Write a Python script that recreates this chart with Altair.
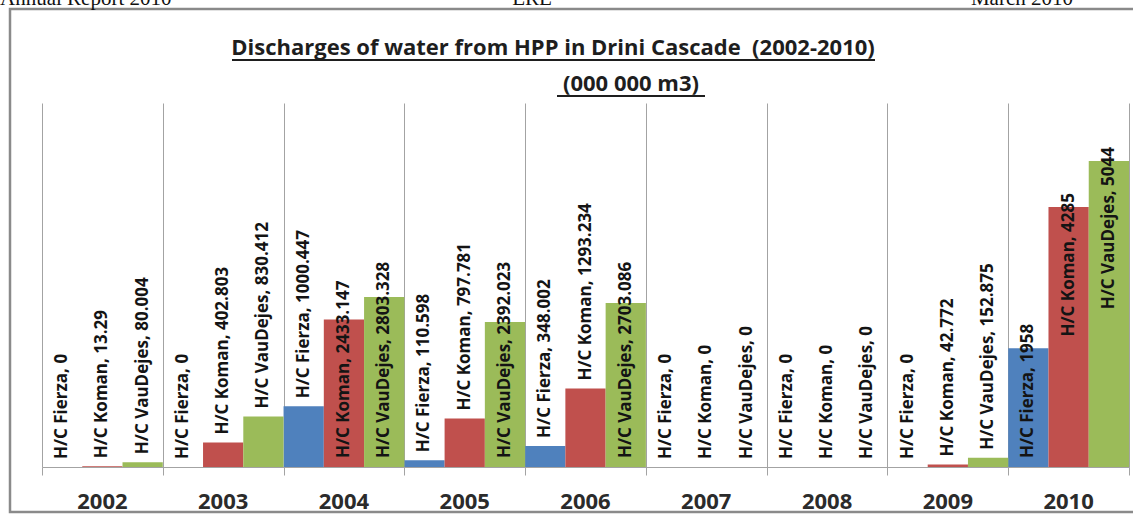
import altair as alt
import pandas as pd

# Annual discharges through the Drini cascade plants, million m3
years = ["2002", "2003", "2004", "2005", "2006", "2007", "2008", "2009", "2010"]
plants = ["H/C Fierza", "H/C Koman", "H/C VauDejes"]
fierza = [0, 0, 1000.447, 110.598, 348.002, 0, 0, 0, 1958]
koman = [13.29, 402.803, 2433.147, 797.781, 1293.234, 0, 0, 42.772, 4285]
vaudejes = [80.004, 830.412, 2803.328, 2392.023, 2703.086, 0, 0, 152.875, 5044]
colors = ["#4F81BD", "#C0504D", "#9BBB59"]

title_line1 = "Discharges of water from HPP in Drini Cascade \u00a0(2002-2010)"
title_line2 = "(000 000 m3)"
header_left, header_mid, header_right = "Annual Report 2010", "ERE", "March 2010"


def fmt(v):
    return ("%.3f" % v).rstrip("0").rstrip(".")


def placement(v):
    # short bars get the label above, mid bars from the base, tall bars at the end
    if v < 1500:
        return "out"
    if v < 3500:
        return "base"
    return "end"


# one slot per bar: year i, plant j -> slot 3*i + j on a 0..27 axis
n_slots = len(years) * len(plants)
rows = []
for j, (plant, series) in enumerate(zip(plants, [fierza, koman, vaudejes])):
    for i, (year, v) in enumerate(zip(years, series)):
        s = i * len(plants) + j
        rows.append({"year": year, "plant": plant, "value": v, "zero": 0,
                     "x0": s, "x1": s + 1, "xc": s + 0.5,
                     "label": f"{plant}, {fmt(v)}", "place": placement(v)})
df = pd.DataFrame(rows)
year_df = pd.DataFrame({"year": years,
                        "xc": [i * len(plants) + len(plants) / 2 for i in range(len(years))]})

W, H = 1087, 364
LEFT, TOP = 42, 103
GRID = "#a3a3a3"
FONT = "Open Sans"

x_scale = alt.Scale(domain=[0, n_slots], nice=False, zero=False)
y_scale = alt.Scale(domain=[0, 6000])

bars = alt.Chart(df).mark_rect().encode(
    x=alt.X("x0:Q", scale=x_scale, title=None, axis=alt.Axis(
        values=list(range(0, n_slots + 1, len(plants))), labels=False,
        grid=True, gridColor=GRID, gridWidth=1, ticks=True, tickSize=8,
        tickColor=GRID, domainColor=GRID, domainWidth=1)),
    x2="x1:Q",
    y=alt.Y("value:Q", scale=y_scale, axis=None),
    y2="zero:Q",
    color=alt.Color("plant:N", scale=alt.Scale(domain=plants, range=colors), legend=None),
)

label_style = dict(angle=270, baseline="middle", font=FONT, fontSize=17,
                   fontWeight="bold", color="#141414")

lab = alt.Chart(df).encode(x=alt.X("xc:Q", scale=x_scale), text="label:N")

lab_out = lab.transform_filter(alt.datum.place == "out").mark_text(
    align="left", dx=8, **label_style
).encode(y=alt.Y("value:Q", scale=y_scale))

lab_base = lab.transform_filter(alt.datum.place == "base").mark_text(
    align="left", dx=9, **label_style
).encode(y=alt.Y("zero:Q", scale=y_scale))

lab_end = lab.transform_filter(alt.datum.place == "end").mark_text(
    align="right", dx=14, **label_style
).encode(y=alt.Y("value:Q", scale=y_scale))

year_labels = alt.Chart(year_df).mark_text(
    baseline="middle", align="center", font=FONT, fontSize=22,
    fontWeight="bold", color="#2b2b2b",
).encode(x=alt.X("xc:Q", scale=x_scale), y=alt.value(H + 35), text="year:N")

# page frame, header line and underlined two-line title
one = pd.DataFrame({"k": [0]})

frame = alt.Chart(one).mark_rect(
    fillOpacity=0, stroke="#8a8a8a", strokeWidth=2.5
).encode(x=alt.value(10 - LEFT), x2=alt.value(1140 - LEFT),
         y=alt.value(9 - TOP), y2=alt.value(512 - TOP))


def text_at(txt, x, y, align, font, size, weight="normal", color="#111"):
    return alt.Chart(one).mark_text(
        text=txt, align=align, baseline="alphabetic", font=font,
        fontSize=size, fontWeight=weight, color=color,
    ).encode(x=alt.value(x - LEFT), y=alt.value(y - TOP))


def underline(x1, x2, y):
    return alt.Chart(one).mark_rule(color="#1e1e1e", strokeWidth=2).encode(
        x=alt.value(x1 - LEFT), x2=alt.value(x2 - LEFT), y=alt.value(y - TOP))


hdr = [
    text_at(header_left, 0, 5, "left", "Liberation Serif", 21),
    text_at(header_mid, 532, 5, "center", "Liberation Serif", 21),
    text_at(header_right, 1073, 5, "right", "Liberation Serif", 21),
]
ttl = [
    text_at(title_line1, 553, 55, "center", FONT, 22, "bold", "#1e1e1e"),
    underline(232, 875, 60),
    text_at(title_line2, 631, 91, "center", FONT, 22, "bold", "#1e1e1e"),
    underline(557, 705, 96),
]

chart = alt.layer(
    bars, lab_out, lab_base, lab_end, year_labels, frame, *hdr, *ttl
).properties(
    width=W, height=H,
    padding={"left": LEFT, "top": TOP, "right": 1133 - LEFT - W, "bottom": 514 - TOP - H},
    autosize=alt.AutoSizeParams(type="none"),
    background="white",
).configure_view(stroke=None)

chart.save("out.html", embed_options={"renderer": "svg", "actions": False})
